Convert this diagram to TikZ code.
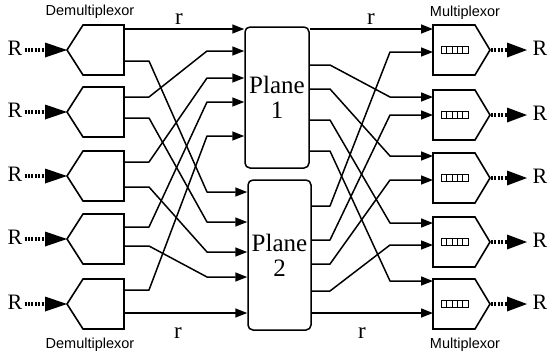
\documentclass[tikz,border=0pt]{standalone}
\usepackage{fontspec}
\setmainfont{Liberation Serif}
\newfontfamily\labsans{Liberation Sans}
\usetikzlibrary{arrows.meta}
\begin{document}
\begin{tikzpicture}[x=1pt,y=-1pt,
  wire/.style={line width=1.5pt, line join=round},
  arr/.style={wire, -{Triangle[length=12pt,width=9pt]}},
  unitbox/.style={line width=1.6pt, line join=miter},
  dotline/.style={line width=4pt, dash pattern=on 2pt off 1.4pt},
  rtext/.style={inner sep=0pt, font=\fontsize{22}{22}\selectfont},
  smallr/.style={inner sep=0pt, font=\fontsize{23}{23}\selectfont},
  lab/.style={inner sep=0pt, font=\labsans\fontsize{14.5}{14.5}\selectfont},
  planebox/.style={draw, line width=1.5pt, rounded corners=5pt, align=center, inner sep=0pt, font=\fontsize{25}{25}\selectfont}
]
\useasboundingbox (0,0) rectangle (549,360);

% demultiplexors
\foreach \cy [count=\i] in {50,112,176,239,304} {
  \draw[unitbox] (67,\cy) -- (83,\cy-25) -- (124,\cy-25) -- (124,\cy+25) -- (83,\cy+25) -- cycle;
  \coordinate (Dtip\i) at (67,\cy);
  \coordinate (Dbase\i) at (45,\cy);
  \node[rtext, anchor=base] (Rin\i) at (15,\cy+5) {R};
  \draw[dotline] (Rin\i.east |- Dtip\i) ++(2,0) -- (Dbase\i);
  \fill (45,\cy-7.5) -- (Dtip\i) -- (45,\cy+7.5) -- cycle;
}

% multiplexors
\foreach \cy [count=\i] in {50,115,178,242,304} {
  \draw[unitbox] (433,\cy-25) -- (475,\cy-25) -- (490,\cy) -- (475,\cy+25) -- (433,\cy+25) -- cycle;
  \draw[line width=0.6pt] (441,\cy-3.5) rectangle (468,\cy+3.5);
  \foreach \k in {1,2,3,4} \draw[line width=0.6pt] (441+5.4*\k,\cy-3.5) -- (441+5.4*\k,\cy+3.5);
  \coordinate (Mtip\i) at (490,\cy);
  \coordinate (Mbase\i) at (508,\cy);
  \node[rtext, anchor=base] (Rout\i) at (540,\cy+5) {R};
  \draw[dotline] (Mtip\i) ++(1,0) -- (Mbase\i);
  \fill (507,\cy-7.5) -- (527,\cy) -- (507,\cy+7.5) -- cycle;
}

% planes
\node[planebox, minimum width=64pt, minimum height=141pt] (P1) at (277,97.5) {Plane\\1};
\node[planebox, minimum width=63pt, minimum height=150pt] (P2) at (279.5,255) {Plane\\2};

% left wiring
\draw[arr] (124,29) -- (P1.west |- 0,29);
\foreach \a/\b in {97/51,162/78,227/102,290/136}
  \draw[arr] (124,\a) -- (149,\a) -- (207,\b) -- (P1.west |- 0,\b);
\foreach \a/\b in {61/192,118/222,187/252,246/277}
  \draw[arr] (124,\a) -- (149,\a) -- (207,\b) -- (P2.west |- 0,\b);
\draw[arr] (124,313) -- (P2.west |- 0,313);

% right wiring
\draw[arr] (P1.east |- 0,29) -- (433,29);
\foreach \a/\b in {65/97,89/156,120/223,151/281}
  \draw[arr] (P1.east |- 0,\a) -- (330,\a) -- (390,\b) -- (433,\b);
\foreach \a/\b in {206/52,240/115,264/180,291/245}
  \draw[arr] (P2.east |- 0,\a) -- (330,\a) -- (390,\b) -- (433,\b);
\draw[arr] (P2.east |- 0,313) -- (433,313);

% labels
\node[smallr, anchor=base] (rtl) at (179,24) {r};
\node[smallr, anchor=base] (rtr) at (371,24) {r};
\node[smallr, anchor=base] (rbl) at (178,338) {r};
\node[smallr, anchor=base] (rbr) at (362,338) {r};
\node[lab, anchor=base] (dmt) at (90,15) {Demultiplexor};
\node[lab, anchor=base] (dmb) at (90,348) {Demultiplexor};
\node[lab, anchor=base] (mxt) at (465,16) {Multiplexor};
\node[lab, anchor=base] (mxb) at (465,348) {Multiplexor};
\end{tikzpicture}
\end{document}
